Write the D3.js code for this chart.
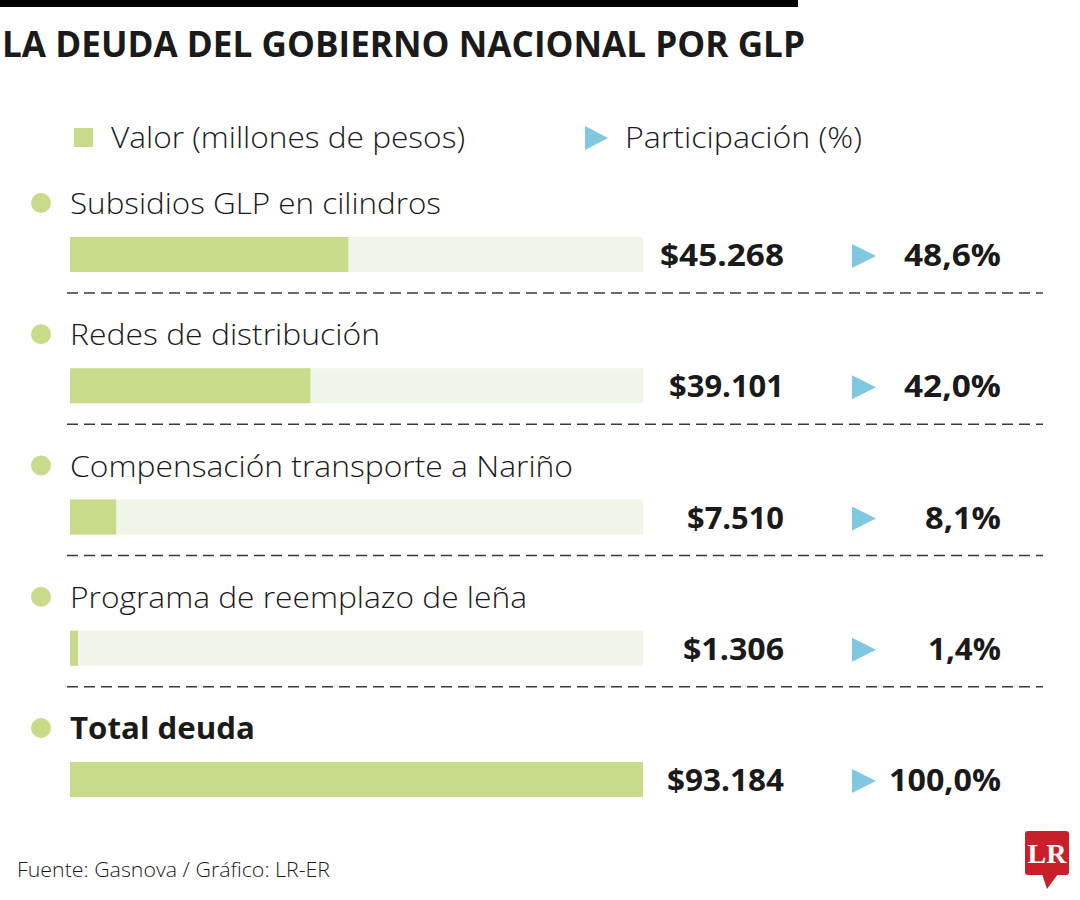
<!DOCTYPE html>
<html><head><meta charset="utf-8">
<script src="https://cdn.jsdelivr.net/npm/d3@7"></script>
<style>
body{margin:0;background:#fff;}
svg{display:block;}
text{font-family:"Open Sans","Noto Sans",sans-serif;fill:#1a1a1a;}
</style></head>
<body>
<svg id="chart" width="1080" height="900"></svg>
<script>
// ---- data ----
const title = "LA DEUDA DEL GOBIERNO NACIONAL POR GLP";
const legendLabels = ["Valor (millones de pesos)", "Participación (%)"];
const categories = ["Subsidios GLP en cilindros", "Redes de distribución", "Compensación transporte a Nariño", "Programa de reemplazo de leña", "Total deuda"];
const values = [45268, 39101, 7510, 1306, 93184];
const valueLabels = ["$45.268", "$39.101", "$7.510", "$1.306", "$93.184"];
const shares = ["48,6%", "42,0%", "8,1%", "1,4%", "100,0%"];
const source = "Fuente: Gasnova / Gráfico: LR-ER";

// ---- styles ----
const GREEN = "#c7db8a", LIGHT = "#eff6e8", BLUE = "#7fc8e0", RED = "#c8202a";
const labelWidths = [371, 310, 503, 457, 185];
const valueWidths = [124, 115, 97, 101, 117];
const shareWidths = [97, 97, 76, 73, 112];

const svg = d3.select("#chart");

svg.append("rect").attr("x",0).attr("y",0).attr("width",798).attr("height",7).attr("fill","#000");

svg.append("text").attr("x",2).attr("y",57).text(title)
  .attr("font-size",35).attr("font-weight",700)
  .attr("textLength",803).attr("lengthAdjust","spacingAndGlyphs");

// legend
svg.append("rect").attr("x",74).attr("y",128).attr("width",19).attr("height",19).attr("fill",GREEN);
svg.append("text").attr("x",111).attr("y",148).text(legendLabels[0])
  .attr("font-size",30).attr("font-weight",300)
  .attr("textLength",354).attr("lengthAdjust","spacingAndGlyphs");
svg.append("path").attr("d","M585,126 L608,138 L585,150 Z").attr("fill",BLUE);
svg.append("text").attr("x",625).attr("y",148).text(legendLabels[1])
  .attr("font-size",30).attr("font-weight",300)
  .attr("textLength",237).attr("lengthAdjust","spacingAndGlyphs");

// scales
const x = d3.scaleLinear().domain([0, d3.max(values)]).range([70, 643]);
const y = d3.scalePoint().domain(categories).range([203, 728]);

const rows = svg.selectAll("g.row").data(categories).join("g").attr("class","row")
  .attr("transform", d => `translate(0,${y(d)})`);

rows.append("circle").attr("cx",41).attr("cy",0).attr("r",10).attr("fill",GREEN);
rows.append("text").attr("x",70).attr("y",11).text(d=>d)
  .attr("font-size",30)
  .attr("font-weight",(d,i)=> i===categories.length-1 ? 700 : 300)
  .attr("textLength",(d,i)=>labelWidths[i]).attr("lengthAdjust","spacingAndGlyphs");

rows.append("rect").attr("x",x(0)).attr("y",34).attr("height",35)
  .attr("width",x.range()[1]-x(0)).attr("fill",LIGHT);
rows.append("rect").attr("x",x(0)).attr("y",34).attr("height",35)
  .attr("width",(d,i)=>x(values[i])-x(0)).attr("fill",GREEN);

rows.append("text").attr("x",784).attr("y",63).attr("text-anchor","end")
  .text((d,i)=>valueLabels[i]).attr("font-size",31).attr("font-weight",700)
  .attr("textLength",(d,i)=>valueWidths[i]).attr("lengthAdjust","spacingAndGlyphs");
rows.append("path").attr("d","M852,41 L876,53 L852,65 Z").attr("fill",BLUE);
rows.append("text").attr("x",1001).attr("y",63).attr("text-anchor","end")
  .text((d,i)=>shares[i]).attr("font-size",31).attr("font-weight",700)
  .attr("textLength",(d,i)=>shareWidths[i]).attr("lengthAdjust","spacingAndGlyphs");

rows.filter((d,i)=>i<categories.length-1).append("line")
  .attr("x1",67).attr("x2",1043).attr("y1",90).attr("y2",90)
  .attr("stroke","#3a3a3a").attr("stroke-width",1.3).attr("stroke-dasharray","11,6");

// source
svg.append("text").attr("x",17).attr("y",877).text(source)
  .attr("font-size",21).attr("font-weight",300).attr("fill","#333")
  .attr("textLength",313).attr("lengthAdjust","spacingAndGlyphs");

// logo
const logo = svg.append("g");
logo.append("rect").attr("x",1025).attr("y",831).attr("width",44).attr("height",44).attr("rx",3).attr("fill",RED);
logo.append("path").attr("d","M1042,874 L1058,874 L1047,889 Z").attr("fill",RED);
logo.append("text").attr("x",1047).attr("y",863).attr("text-anchor","middle").text("LR")
  .style("font-family","'Liberation Serif','DejaVu Serif',serif").style("font-weight",700)
  .style("font-size","28px").style("fill","#fff");
</script>
</body></html>
